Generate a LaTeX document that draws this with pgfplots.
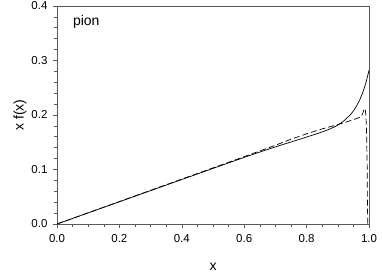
\documentclass[border=0pt]{standalone}
\usepackage{fontspec}
\setmainfont{Liberation Sans}
\usepackage{pgfplots}
\pgfplotsset{compat=1.18}
\begin{document}
\begin{tikzpicture}
\begin{axis}[
  scale only axis,
  width=312pt, height=218pt,
  xmin=0, xmax=1, ymin=0, ymax=0.4,
  xtick={0,0.2,0.4,0.6,0.8,1.0},
  ytick={0,0.1,0.2,0.3,0.4},
  minor x tick num=3,
  minor y tick num=4,
  tick align=outside,
  tick pos=left,
  major tick length=4pt,
  minor tick length=2.5pt,
  axis line style={draw=black!65, line width=0.7pt},
  every tick/.style={draw=black!65, line width=0.6pt},
  /pgf/number format/assume math mode=true,
  /pgf/number format/.cd, fixed, fixed zerofill, precision=1,
  /pgfplots/.cd,
  ticklabel style={font=\fontsize{11.5}{13}\selectfont},
  xticklabel style={yshift=-3pt},
  yticklabel style={xshift=-2pt},
  xlabel={x}, ylabel={x f(x)},
  label style={font=\fontsize{14}{16}\selectfont},
  xlabel style={yshift=-14pt},
  ylabel style={yshift=-2pt},
]
\addplot[black, line width=0.7pt, smooth, tension=0.3] coordinates {
(0,0) (0.1,0.0204) (0.2,0.0408) (0.3,0.0612) (0.4,0.0816) (0.5,0.102)
(0.6,0.1222) (0.65,0.132) (0.7,0.1415) (0.75,0.1505) (0.8,0.1595)
(0.85,0.169) (0.875,0.1745) (0.9,0.1815) (0.92,0.1895) (0.94,0.2005)
(0.95,0.2075) (0.96,0.2165) (0.97,0.2275) (0.98,0.2415) (0.99,0.259) (1.0,0.282)};
\addplot[black, line width=0.7pt, dash pattern=on 6pt off 3pt] coordinates {
(0,0) (0.1,0.0206) (0.2,0.0412) (0.3,0.0618) (0.4,0.0824) (0.5,0.103)
(0.6,0.1236) (0.7,0.1445) (0.75,0.1555) (0.8,0.1655) (0.85,0.1745)
(0.9,0.1825) (0.93,0.1875) (0.96,0.1935) (0.975,0.197) (0.98,0.203)
(0.985,0.212) (0.988,0.210) (0.990,0.200) (0.992,0.175) (0.994,0.11)
(0.995,0.04) (0.996,0)};
\node[anchor=north west, font=\fontsize{14}{16}\selectfont] at (axis cs:0.04,0.39) {pion};
\end{axis}
\pgfresetboundingbox
\path[use as bounding box] ([shift={(-57pt,-54pt)}]current axis.south west) rectangle ([shift={(13pt,6pt)}]current axis.north east);
\end{tikzpicture}
\end{document}
